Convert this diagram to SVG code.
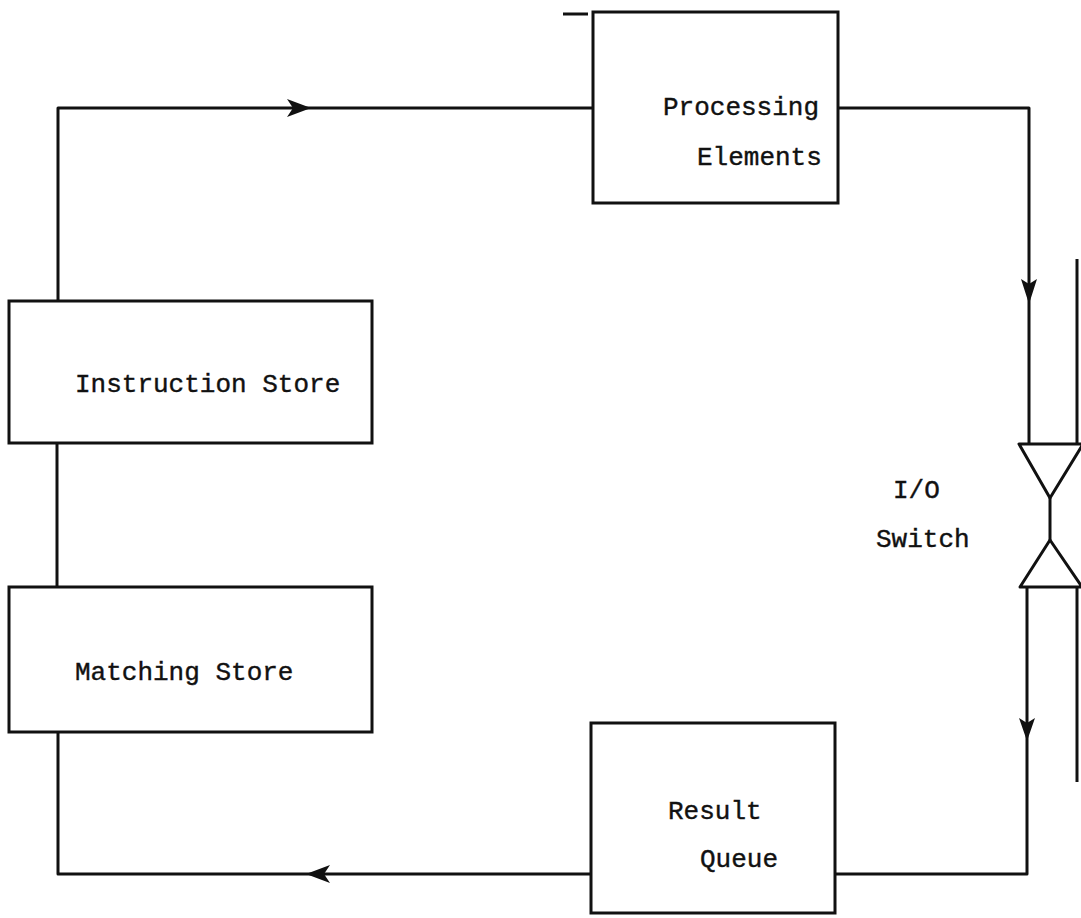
<svg xmlns="http://www.w3.org/2000/svg" width="1081" height="918" viewBox="0 0 1081 918">
  <style>
    .box { fill: #ffffff; stroke: #111111; stroke-width: 3; }
    .wire { fill: none; stroke: #111111; stroke-width: 3; stroke-linejoin: round; }
    .head { fill: #111111; stroke: none; }
    .label { font-family: "Liberation Mono", "DejaVu Sans Mono", monospace; font-size: 26px; fill: #111111; stroke: #111111; stroke-width: 0.4; }
  </style>
  <rect width="1081" height="918" fill="#ffffff"/>

  <!-- connectors of the ring -->
  <g id="connectors">
    <!-- top: instruction store up and across to the processing elements -->
    <path class="wire" d="M58,301 L58,108 L593,108"/>
    <path class="head" d="M311,108 L287,99 L293,108 L287,117 Z"/>
    <!-- processing elements across and down to the switch -->
    <path class="wire" d="M838,108 L1029,108 L1029,444"/>
    <path class="head" d="M1029,304 L1021,279 L1029,284 L1037,279 Z"/>
    <!-- switch down to the result queue -->
    <path class="wire" d="M1027,587 L1027,874 L835,874"/>
    <path class="head" d="M1027,741 L1019,718 L1027,723 L1035,718 Z"/>
    <!-- result queue back to the matching store -->
    <path class="wire" d="M591,874 L58,874 L58,732"/>
    <path class="head" d="M306,874 L330,865 L324,874 L330,883 Z"/>
    <!-- instruction store to matching store -->
    <path class="wire" d="M57,443 L57,587"/>
    <!-- short mark at the top left of the processing elements -->
    <path class="wire" d="M563,14 L588,14"/>
  </g>

  <g id="processing-elements">
    <rect class="box" x="593" y="12" width="245" height="191"/>
    <text class="label" x="663" y="115">Processing</text>
    <text class="label" x="697" y="165">Elements</text>
  </g>

  <g id="instruction-store">
    <rect class="box" x="9" y="301" width="363" height="142"/>
    <text class="label" x="75" y="392">Instruction Store</text>
  </g>

  <g id="matching-store">
    <rect class="box" x="9" y="587" width="363" height="145"/>
    <text class="label" x="75" y="680">Matching Store</text>
  </g>

  <g id="result-queue">
    <rect class="box" x="591" y="723" width="244" height="190"/>
    <text class="label" x="668" y="819">Result</text>
    <text class="label" x="700" y="867">Queue</text>
  </g>

  <g id="io-switch">
    <!-- outer bus line -->
    <path class="wire" d="M1077,259 L1077,444"/>
    <path class="wire" d="M1077,587 L1077,782"/>
    <!-- facing triangles -->
    <path class="wire" d="M1019,444 L1083,444 L1050,498 Z"/>
    <path class="wire" d="M1050,498 L1050,540"/>
    <path class="wire" d="M1050,540 L1082,587 L1020,587 Z"/>
    <text class="label" x="893" y="498">I/O</text>
    <text class="label" x="876" y="547">Switch</text>
  </g>
</svg>
